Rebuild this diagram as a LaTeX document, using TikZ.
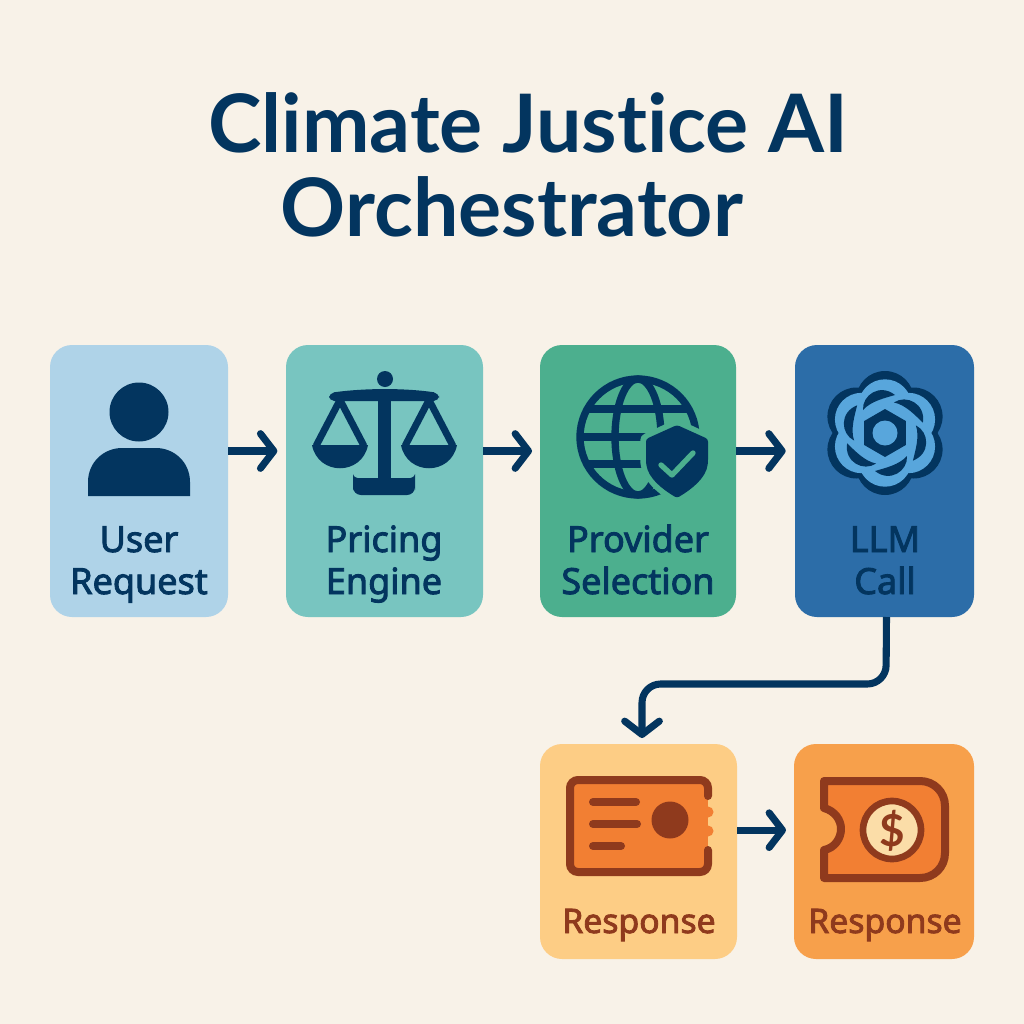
\documentclass[tikz,border=0pt]{standalone}
\usepackage{fontspec}
\setmainfont{Noto Sans}
\newfontfamily\lablfont[FakeBold=2.5]{Noto Sans}
\newfontfamily\titlefont[Ligatures=NoCommon]{Lato}
\usetikzlibrary{arrows.meta,calc}
\definecolor{bgc}{HTML}{F8F2E8}
\definecolor{navy}{HTML}{03355F}
\definecolor{brownc}{HTML}{8F3A1D}
\definecolor{orangec}{HTML}{F27F33}
\definecolor{cuser}{HTML}{AFD3E8}
\definecolor{cprice}{HTML}{78C5C0}
\definecolor{cprov}{HTML}{4CAF8E}
\definecolor{cllm}{HTML}{2C6DA8}
\definecolor{crespa}{HTML}{FDCD85}
\definecolor{crespb}{HTML}{F7A04B}
\definecolor{lightb}{HTML}{58A6DC}
\definecolor{cream}{HTML}{FBDDA8}
\tikzset{
 boxst/.style={rounded corners=16.5pt,inner sep=0pt,outer sep=0pt,draw=none},
 titlest/.style={anchor=base,text=navy,inner sep=0pt,font=\fontsize{60.5}{60.5}\selectfont\titlefont\bfseries},
 lablst/.style={anchor=base,text=navy,inner sep=0pt,font=\fontsize{27}{27}\selectfont\lablfont},
 resplst/.style={lablst,text=brownc,font=\fontsize{25.3}{25.3}\selectfont\lablfont},
 arr/.style={draw=navy,line width=5.3pt,-{Straight Barb[length=10pt,width=26pt,line width=5.3pt,round]},line cap=butt,line join=round},
}
\begin{document}
\begin{tikzpicture}[x=0.75pt,y=-0.75pt]
\useasboundingbox (0,0) rectangle (1024,1024);
\fill[bgc] (0,0) rectangle (1024,1024);
\node[titlest] (t1) at (528,152) {Climate Justice AI};
\node[titlest] (t2) at (512,236) {Orchestrator};
% boxes
\node[boxst,fill=cuser,minimum width=133.5pt,minimum height=204pt] (a) at (139,481) {};
\node[boxst,fill=cprice,minimum width=147.75pt,minimum height=204pt] (b) at (384.5,481) {};
\node[boxst,fill=cprov,minimum width=147pt,minimum height=204pt] (c) at (638,481) {};
\node[boxst,fill=cllm,minimum width=134.25pt,minimum height=204pt] (d) at (884.5,481) {};
\node[boxst,fill=crespa,minimum width=147.75pt,minimum height=161.25pt] (e) at (638.5,851.5) {};
\node[boxst,fill=crespb,minimum width=135pt,minimum height=161.25pt] (f) at (884,851.5) {};
% labels
\node[lablst] (la1) at (139,552) {User};
\node[lablst] (la2) at (139,594) {Request};
\node[lablst] (lb1) at (384,552) {Pricing};
\node[lablst] (lb2) at (384,594) {Engine};
\node[lablst] (lc1) at (638,552) {Provider};
\node[lablst] (lc2) at (638,594) {Selection};
\node[lablst] (ld1) at (885,552) {LLM};
\node[lablst] (ld2) at (885,594) {Call};
\node[resplst] (le) at (639,933) {Response};
\node[resplst] (lf) at (885,933) {Response};
% connectors
\draw[arr,shorten >=6.5pt] ([yshift=22.5pt]a.east) -- ([yshift=22.5pt]b.west);
\draw[arr,shorten >=6pt] ([yshift=22.5pt]b.east) -- ([yshift=22.5pt]c.west);
\draw[arr,shorten >=7pt] ([yshift=22.5pt]c.east) -- ([yshift=22.5pt]d.west);
\draw[arr,shorten >=6pt] ([yshift=16pt]e.east) -- ([yshift=16pt]f.west);
\coordinate (m1) at (886,684);
\coordinate (m2) at (642,684);
\draw[arr,rounded corners=14pt,shorten >=4.5pt] ([xshift=1.5pt]d.south) -- (m1) -- (m2) -- (e.north -| m2);
% user icon
\fill[navy] (139,412) circle (29.5);
\fill[navy] (88,496) -- (88,482) .. controls (88,462) and (104,448) .. (122,448) -- (156,448) .. controls (174,448) and (190,462) .. (190,482) -- (190,496) -- cycle;
% scales icon
\fill[navy] (385,379) circle (8);
\fill[navy,rounded corners=4pt] (329,393) .. controls (365,388) and (405,388) .. (439,393) -- (439,401) -- (329,401) -- cycle;
\fill[navy] (378,394) rectangle (391,480);
\fill[navy,rounded corners=6pt] (353,495) -- (353,482) .. controls (353,478) and (360,478) .. (365,478) -- (403,478) .. controls (408,478) and (415,478) .. (415,482) -- (415,495) -- cycle;
\draw[navy,line width=5.2pt,line join=miter] (316,446) -- (340,400) -- (364,446);
\draw[navy,line width=5.2pt,line join=miter] (405,446) -- (429,400) -- (453,446);
\fill[navy] (312,445) .. controls (318,476) and (362,476) .. (368,445) -- cycle;
\fill[navy] (401,445) .. controls (407,476) and (451,476) .. (457,445) -- cycle;
% globe icon
\draw[navy,line width=5.5pt] (638,437) circle (58);
\draw[navy,line width=5.5pt] (638,437) ellipse (23 and 58);
\draw[navy,line width=5.5pt] (586,409) -- (690,409);
\draw[navy,line width=5.5pt] (582,437) -- (694,437);
\draw[navy,line width=5.5pt] (586,464) -- (690,464);
\path[draw=cprov,line width=10pt,line join=round,fill=cprov] (677,426) -- (707,440) -- (707,462) .. controls (705,478) and (692,488) .. (677,497) .. controls (662,488) and (649,478) .. (647,462) -- (647,440) -- cycle;
\path[fill=navy,rounded corners=2pt] (677,425) -- (708,439) -- (708,462) .. controls (706,478) and (692,489) .. (677,498) .. controls (662,489) and (648,478) .. (646,462) -- (646,439) -- cycle;
\draw[cprov,line width=4pt,line cap=round,line join=round] (661,465) -- (672,475) -- (693,453);
% llm icon
\foreach \r in {90,30,-30,-90,-150,150}
 \fill[navy] ($(885,433)+(\r:33)$) circle (29);
\foreach \r in {90,30,-30,-90,-150,150}
 \fill[lightb] ($(885,433)+(\r:27)$) circle (26.7);
\foreach \r in {0,60,120,180,240,300}
 \fill[navy,shift={(885,433)},rotate=\r] (-22,-23) .. controls (-23,-38) and (-5,-50) .. (10,-38) .. controls (0,-35) and (-14,-32) .. (-22,-23) -- cycle;
\fill[navy] (885,409) -- (905.8,421) -- (905.8,445) -- (885,457) -- (864.2,445) -- (864.2,421) -- cycle;
\fill[lightb] (885,433) circle (12.5);
% ticket 1
\path[fill=orangec] (570,780) rectangle (708,872);
\draw[brownc,line width=6pt,rounded corners=6pt,line cap=round] (708,796) -- (708,780) -- (570,780) -- (570,872) -- (708,872) -- (708,850);
\fill[orangec] (708,812) circle (5.5);
\fill[orangec] (708,831) circle (5.5);
\draw[brownc,line width=6pt,line cap=round] (593,802) -- (636,802);
\draw[brownc,line width=6pt,line cap=round] (593,824) -- (637,824);
\draw[brownc,line width=6pt,line cap=round] (593,846) -- (621,846);
\fill[brownc] (670,820) circle (18.5);
% ticket 2
\draw[brownc,fill=orangec,line width=6pt,line join=round] (824,781) -- (920,781) .. controls (934,781) and (945,792) .. (945,806) -- (945,853) .. controls (945,867) and (934,878) .. (920,878) -- (824,878) -- (824,850) .. controls (835,848) and (841,838) .. (841,829) .. controls (841,820) and (835,811) .. (824,808) -- cycle;
\fill[cream,draw=brownc,line width=5pt] (892,830) circle (29);
\node[inner sep=0pt,text=brownc,font=\fontsize{33}{33}\selectfont\titlefont\bfseries] (dollar) at (892,831) {\$};
\end{tikzpicture}
\end{document}
